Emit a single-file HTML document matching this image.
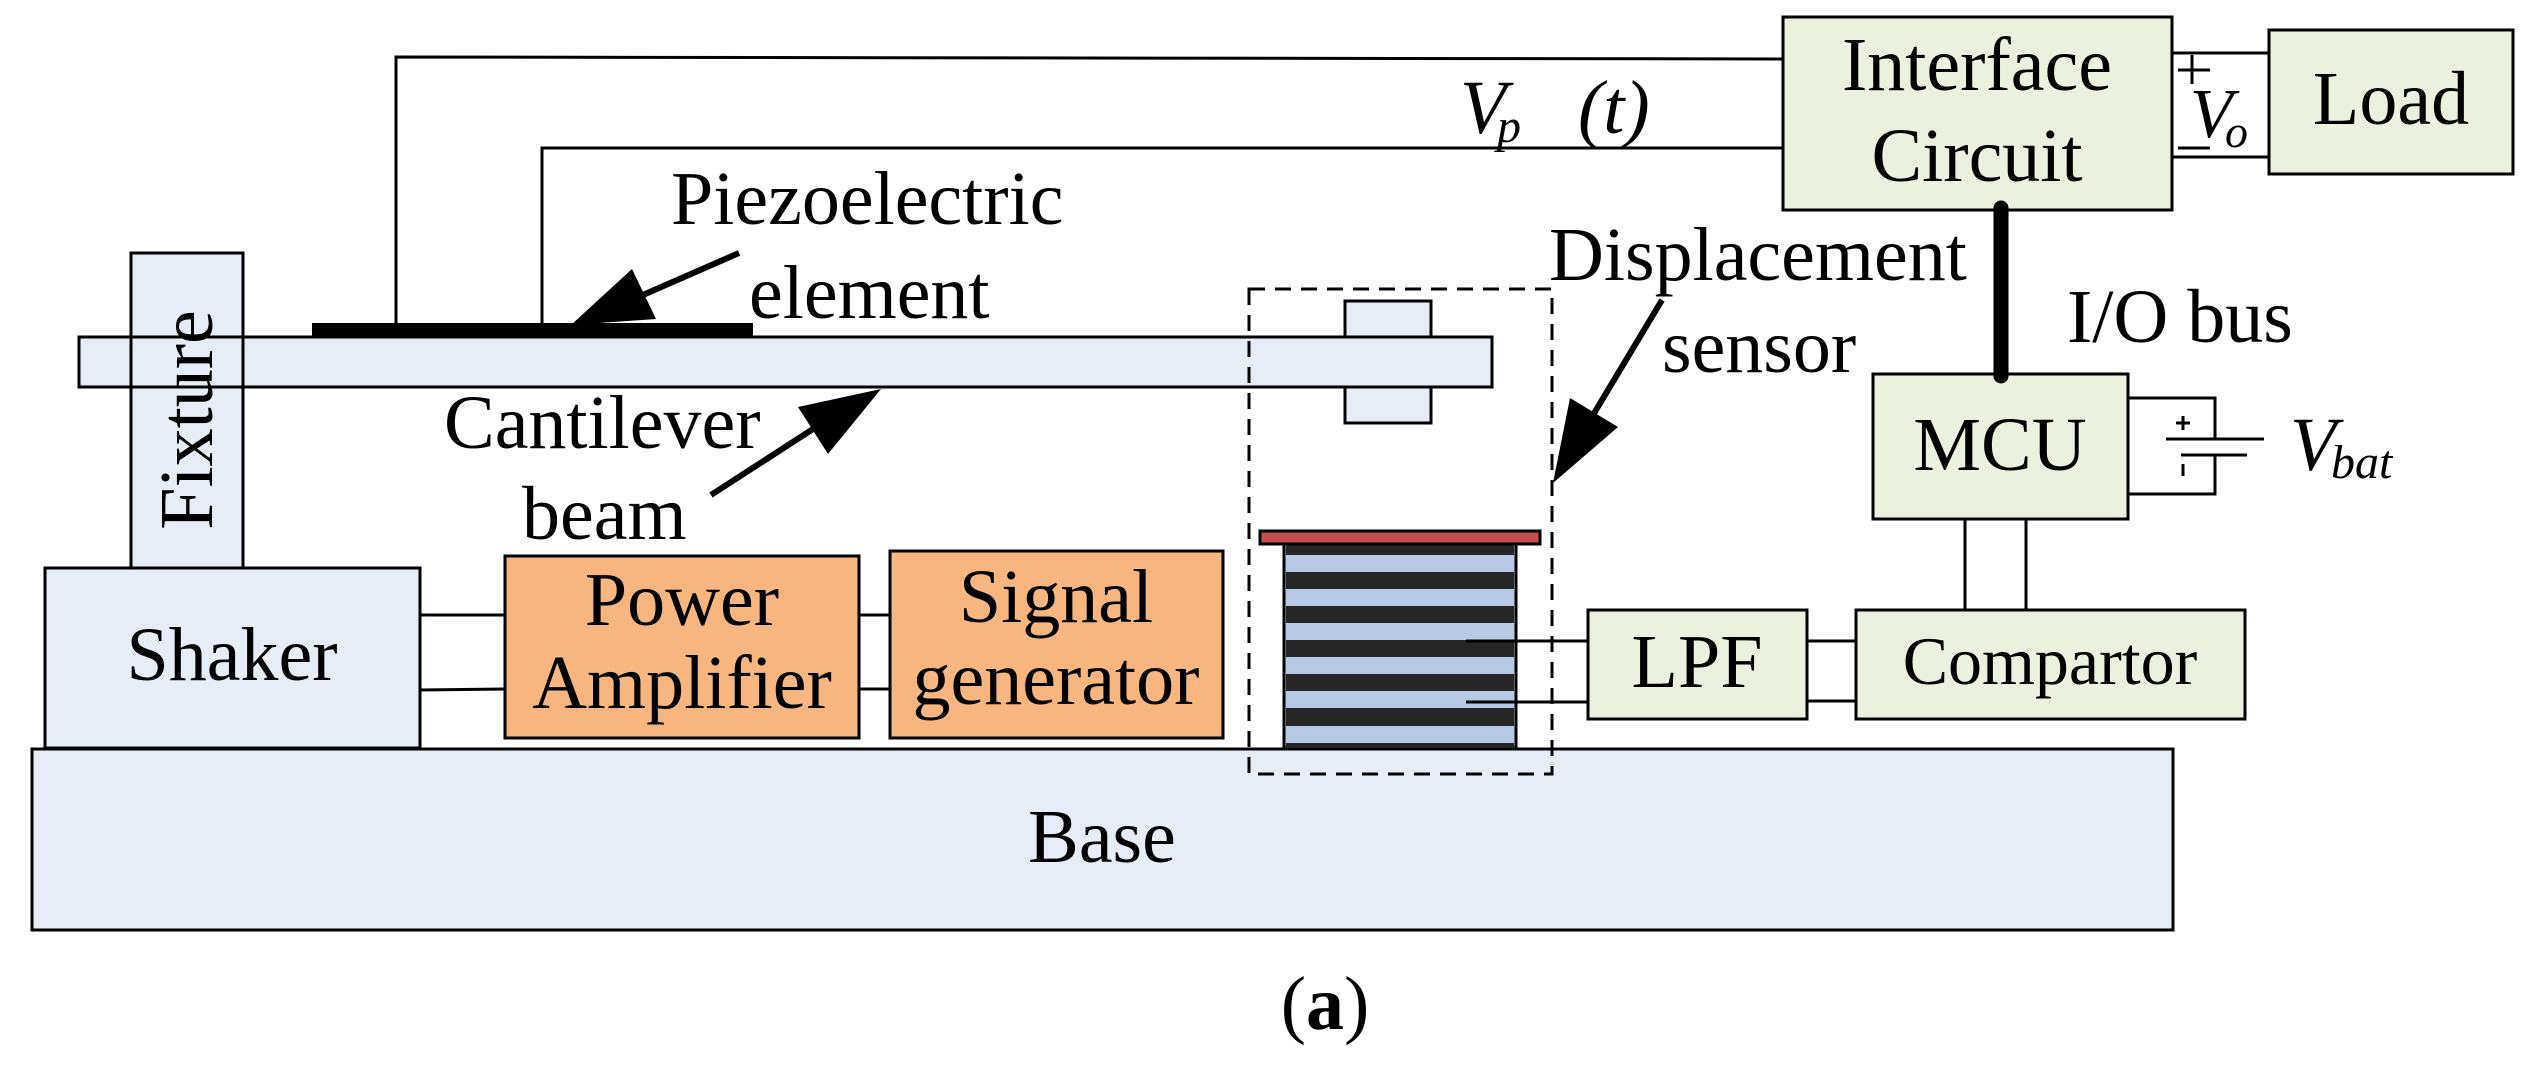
<!DOCTYPE html>
<html><head><meta charset="utf-8"><style>
html,body{margin:0;padding:0;background:#fff;}
svg{display:block;}
text{font-family:"Liberation Serif","DejaVu Serif",serif;fill:#000;}
</style></head><body>
<svg width="2535" height="1083" viewBox="0 0 2535 1083" xmlns="http://www.w3.org/2000/svg" font-family="Liberation Serif, DejaVu Serif, serif">
<g stroke="#000" stroke-width="3" fill="none">
<polyline points="396,323 396,57 1783,59"/>
<polyline points="542,323 542,148 1783,148"/>
<line x1="2172" y1="53" x2="2269" y2="53"/>
<line x1="2172" y1="157" x2="2269" y2="157"/>
<line x1="420" y1="615" x2="505" y2="615"/>
<line x1="420" y1="690" x2="505" y2="689"/>
<line x1="859" y1="615" x2="890" y2="615"/>
<line x1="859" y1="689" x2="890" y2="689"/>
<line x1="1466" y1="641" x2="1588" y2="641"/>
<line x1="1466" y1="702" x2="1588" y2="702"/>
<line x1="1807" y1="641" x2="1856" y2="641"/>
<line x1="1807" y1="701" x2="1856" y2="701"/>
<line x1="1965" y1="519" x2="1965" y2="610"/>
<line x1="2026" y1="519" x2="2026" y2="610"/>
<polyline points="2128,398 2215,398 2215,439"/>
<polyline points="2128,494 2215,494 2215,455"/>
<line x1="2166" y1="439" x2="2264" y2="439"/>
<line x1="2181" y1="455" x2="2247" y2="455"/>
</g>
<rect x="32" y="749" width="2141" height="181" fill="#e6edf7" stroke="#000" stroke-width="3"/>
<rect x="45" y="568" width="375" height="180" fill="#e6edf7" stroke="#000" stroke-width="3"/>
<rect x="131" y="253" width="112" height="315" fill="#e6edf7" stroke="#000" stroke-width="3"/>
<rect x="1345" y="301" width="86" height="122" fill="#e6edf7" stroke="#000" stroke-width="3"/>
<rect x="79" y="337" width="1413" height="50" fill="#e6edf7" stroke="#000" stroke-width="3"/>
<rect x="131" y="337" width="112" height="50" fill="#e6edf7" stroke="#000" stroke-width="3"/>
<rect x="312" y="323" width="441" height="14" fill="#000"/>
<rect x="505" y="556" width="354" height="182" fill="#f7b57f" stroke="#000" stroke-width="3"/>
<rect x="890" y="551" width="333" height="187" fill="#f7b57f" stroke="#000" stroke-width="3"/>
<rect x="1284" y="543" width="232" height="205" fill="#b8c9e3" stroke="#000" stroke-width="3"/>
<g fill="#262626">
<rect x="1286" y="543" width="228" height="12"/>
<rect x="1286" y="572" width="228" height="17"/>
<rect x="1286" y="606" width="228" height="17"/>
<rect x="1286" y="640" width="228" height="17"/>
<rect x="1286" y="674" width="228" height="17"/>
<rect x="1286" y="708" width="228" height="18"/>
<rect x="1286" y="743" width="228" height="5"/>
</g>
<line x1="1466" y1="641" x2="1516" y2="641" stroke="#000" stroke-width="3"/>
<line x1="1466" y1="702" x2="1516" y2="702" stroke="#000" stroke-width="3"/>
<rect x="1260" y="531" width="280" height="13" fill="#c0504d" stroke="#000" stroke-width="3"/>
<rect x="1249" y="289" width="303" height="485" fill="none" stroke="#000" stroke-width="3" stroke-dasharray="16,10"/>
<rect x="1783" y="17" width="389" height="193" fill="#ebf1de" stroke="#000" stroke-width="3"/>
<rect x="2269" y="30" width="244" height="144" fill="#ebf1de" stroke="#000" stroke-width="3"/>
<rect x="1873" y="374" width="255" height="145" fill="#ebf1de" stroke="#000" stroke-width="3"/>
<rect x="1588" y="610" width="219" height="109" fill="#ebf1de" stroke="#000" stroke-width="3"/>
<rect x="1856" y="610" width="389" height="109" fill="#ebf1de" stroke="#000" stroke-width="3"/>
<line x1="2001" y1="208" x2="2001" y2="376" stroke="#000" stroke-width="15" stroke-linecap="round"/>
<line x1="739" y1="253" x2="620" y2="305" stroke="#000" stroke-width="6"/>
<polygon points="571,325 632,269 656,319" fill="#000"/>
<line x1="711" y1="495" x2="830" y2="418" stroke="#000" stroke-width="6"/>
<polygon points="881,389 798,407 828,454" fill="#000"/>
<line x1="1662" y1="300" x2="1590" y2="420" stroke="#000" stroke-width="6"/>
<polygon points="1553,483 1570,398 1618,427" fill="#000"/>
<g font-size="76">
<text x="671" y="224">Piezoelectric</text>
<text x="749" y="318">element</text>
<text x="444" y="448">Cantilever</text>
<text x="522" y="539">beam</text>
<text x="1549" y="280">Displacement</text>
<text x="1662" y="372">sensor</text>
<text x="232" y="680" text-anchor="middle">Shaker</text>
<text x="682" y="625" text-anchor="middle">Power</text>
<text x="682" y="708" text-anchor="middle">Amplifier</text>
<text x="1056" y="622" text-anchor="middle">Signal</text>
<text x="1056" y="704" text-anchor="middle">generator</text>
<text x="1102" y="862" text-anchor="middle">Base</text>
<text x="1977" y="90" text-anchor="middle">Interface</text>
<text x="1977" y="181" text-anchor="middle">Circuit</text>
<text x="2391" y="124" text-anchor="middle">Load</text>
<text x="2000" y="470" text-anchor="middle">MCU</text>
<text x="1697" y="687" text-anchor="middle">LPF</text>
<text x="2050" y="684" text-anchor="middle" font-size="68">Compartor</text>
<text x="2067" y="342">I/O bus</text>
<text transform="translate(212,420) rotate(-90)" text-anchor="middle">Fixture</text>
<text x="1460" y="133" font-style="italic">V</text>
<text x="1497" y="142" font-style="italic" font-size="48">p</text>
<text x="1578" y="133" font-style="italic">(t)</text>
<text x="2190" y="137" font-style="italic" font-size="70">V</text>
<text x="2225" y="147" font-style="italic" font-size="46">o</text>
<text x="2290" y="470" font-style="italic">V</text>
<text x="2331" y="478" font-style="italic" font-size="48">bat</text>
<text x="1325" y="1029" text-anchor="middle">(<tspan font-weight="bold">a</tspan>)</text>
</g>
<g stroke="#000" stroke-width="3">
<line x1="2178" y1="70" x2="2210" y2="70"/>
<line x1="2192" y1="55" x2="2192" y2="84"/>
<line x1="2178" y1="148" x2="2210" y2="148"/>
<line x1="2176" y1="423" x2="2190" y2="423"/>
<line x1="2183" y1="416" x2="2183" y2="430"/>
<line x1="2183" y1="464" x2="2183" y2="476"/>
</g>
</svg>
</body></html>
